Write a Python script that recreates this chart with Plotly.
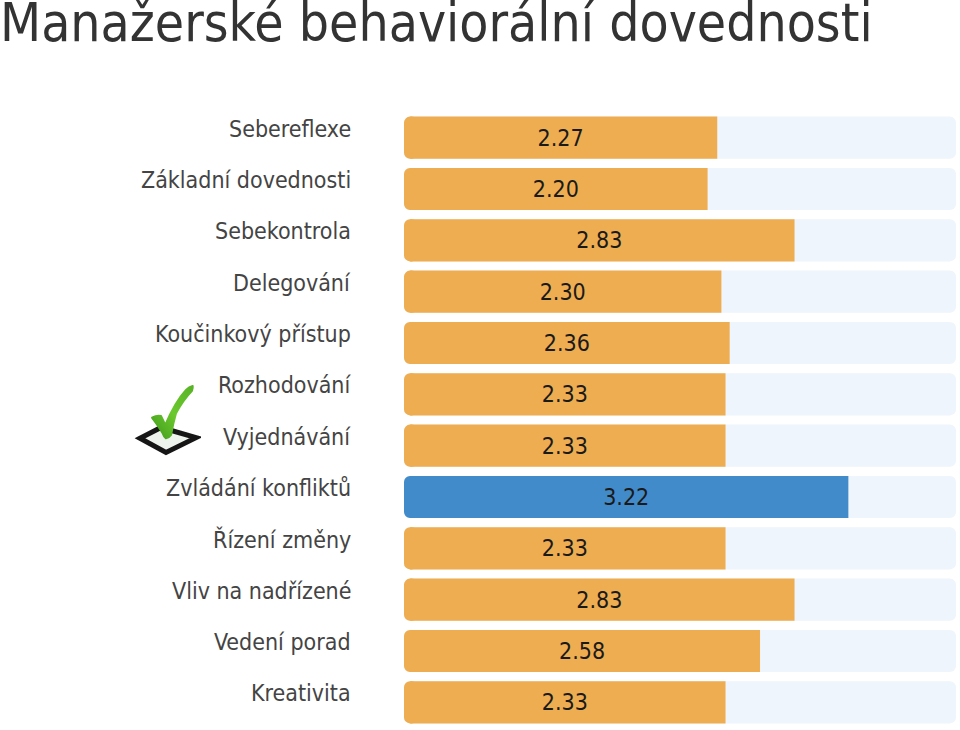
import base64
import plotly.graph_objects as go

categories = ["Sebereflexe", "Základní dovednosti", "Sebekontrola", "Delegování",
              "Koučinkový přístup", "Rozhodování", "Vyjednávání", "Zvládání konfliktů",
              "Řízení změny", "Vliv na nadřízené", "Vedení porad", "Kreativita"]
values = [2.27, 2.20, 2.83, 2.30, 2.36, 2.33, 2.33, 3.22, 2.33, 2.83, 2.58, 2.33]
scale_max = 4
highlight = "Zvládání konfliktů"
title = "Manažerské behaviorální dovednosti"

ORANGE = "#EEAD51"
BLUE = "#428BCA"
TRACK = "#EFF5FC"
FONT = "DejaVu Sans Condensed"
RADIUS = 6
CAP = 0.1        # length, in axis units, of the rounded left cap of each value bar
CAP_JOIN = 0.045 # where the square-ended body of the bar takes over from that cap

labels = [f"{v:.2f}" for v in values]
colors = [BLUE if c == highlight else ORANGE for c in categories]

svg = """<svg xmlns='http://www.w3.org/2000/svg' viewBox='0 0 70 80' width='70' height='80'>
<defs><linearGradient id='g' x1='0' y1='1' x2='1' y2='0'>
<stop offset='0' stop-color='#3f9a1c'/><stop offset='0.5' stop-color='#6cc82e'/><stop offset='1' stop-color='#58b327'/></linearGradient>
<filter id='b'><feGaussianBlur stdDeviation='0.5'/></filter></defs>
<g filter='url(#b)'>
<path d='M9 58.3 L30 47.5 L65 57.7 L35 72.5 Z' fill='#eef3ee' stroke='#151515' stroke-width='5' stroke-linejoin='miter'/>
<path d='M21 37.7 Q26 35 30 36 Q32 40 34.3 45 Q44 22 55 10 Q58 7 61.7 6 Q62 8 61 10.7 Q52 20 45 33.3 Q42 44 40 55 Q38 58 35 58.3 Q33 57 31.7 53.3 Q26 44 21 37.7 Z' fill='url(#g)' stroke='url(#g)' stroke-width='2' stroke-linejoin='round'/>
</g></svg>"""
src = "data:image/svg+xml;base64," + base64.b64encode(svg.encode()).decode()

n = len(values)
fig = go.Figure()
# pale track, rounded at both ends (bars with an explicit base are rounded on both sides)
fig.add_bar(y=categories, x=[scale_max] * n, base=[0] * n, orientation="h",
            marker=dict(color=TRACK, line_width=0, cornerradius=RADIUS), hoverinfo="skip")
# short rounded cap at the left of each value bar
fig.add_bar(y=categories, x=[CAP] * n, base=[0] * n, orientation="h",
            marker=dict(color=colors, line_width=0, cornerradius=RADIUS), hoverinfo="skip")
# square-ended body of each value bar
fig.add_bar(y=categories, x=[v - CAP_JOIN for v in values], base=[CAP_JOIN] * n, orientation="h",
            marker=dict(color=colors, line_width=0, cornerradius=0), hoverinfo="skip")
# invisible bar that carries the centred value label
fig.add_bar(y=categories, x=values, orientation="h",
            marker=dict(color="rgba(0,0,0,0)", line_width=0, cornerradius=0), text=labels, textposition="inside",
            insidetextanchor="middle", textangle=0,
            textfont=dict(family=FONT, size=23, color="#1a1a1a"), hoverinfo="skip")

W, H, L, R, T, B = 960, 730, 404, 4, 112, 2
pw, ph = W - L - R, H - T - B

fig.update_layout(
    width=W, height=H, autosize=False, showlegend=False,
    barmode="overlay", bargap=0.18,
    paper_bgcolor="white", plot_bgcolor="white",
    margin=dict(l=L, r=R, t=T, b=B),
    title=dict(text=title, x=0, xref="container", xanchor="left", y=1, yref="container", yanchor="top",
               pad=dict(l=0, t=4), font=dict(family=FONT, size=53, color="#333333")),
    font=dict(family=FONT),
    xaxis=dict(range=[0, scale_max], visible=False, fixedrange=True),
    yaxis=dict(autorange="reversed", showline=False, showgrid=False, zeroline=False, ticks="",
               showticklabels=False, fixedrange=True),
    images=[dict(source=src, xref="paper", yref="paper", x=(131 - L) / pw, y=(H - B - 380) / ph,
                 sizex=70 / pw, sizey=80 / ph, xanchor="left", yanchor="top", layer="above", sizing="stretch")],
)
for c in categories:
    fig.add_annotation(text=c, xref="paper", x=0, y=c, yref="y", xanchor="right", yanchor="middle",
                       xshift=-51, yshift=9, showarrow=False,
                       font=dict(family=FONT, size=23, color="#444444"))

fig.write_html("out.html", config=dict(displayModeBar=False),
               post_script="document.body.style.margin='0';")
